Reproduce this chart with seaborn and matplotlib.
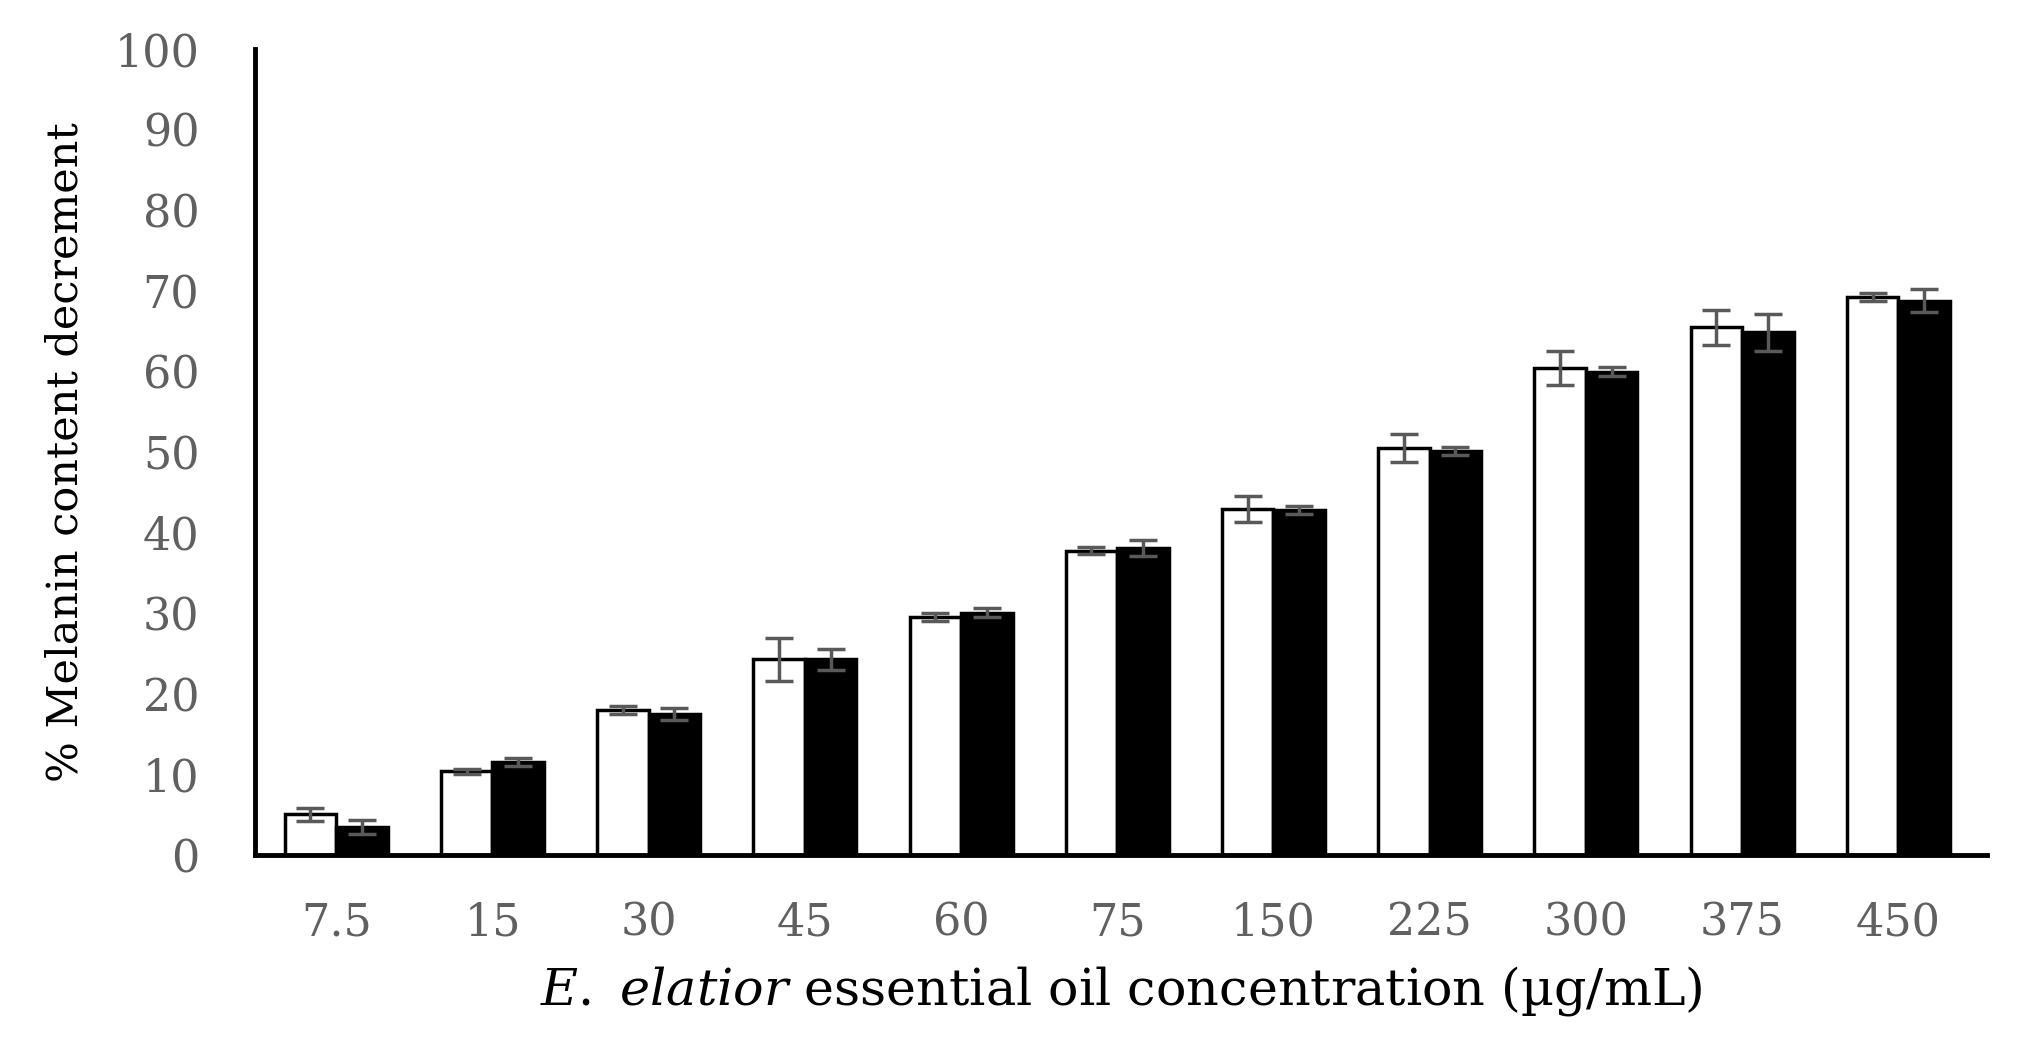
import pandas as pd
import numpy as np
import matplotlib
matplotlib.use("Agg")
import matplotlib.pyplot as plt
import seaborn as sns

# data
concentrations = ["7.5", "15", "30", "45", "60", "75", "150", "225", "300", "375", "450"]
series_names = ["Series 1", "Series 2"]
values_white = [5.1, 10.4, 18.0, 24.3, 29.5, 37.8, 43.0, 50.5, 60.5, 65.5, 69.3]
values_black = [3.5, 11.6, 17.5, 24.3, 30.1, 38.1, 42.8, 50.2, 60.0, 64.9, 68.8]
err_white = [0.8, 0.3, 0.5, 2.7, 0.5, 0.4, 1.6, 1.7, 2.1, 2.2, 0.5]
err_black = [0.9, 0.5, 0.7, 1.3, 0.6, 1.0, 0.5, 0.5, 0.6, 2.3, 1.4]
y_ticks = list(range(0, 101, 10))

df = pd.DataFrame({
    "conc": concentrations * 2,
    "series": [series_names[0]] * len(concentrations) + [series_names[1]] * len(concentrations),
    "value": values_white + values_black,
})

sns.set_style("white")
plt.rcParams["font.family"] = ["DejaVu Serif"]
plt.rcParams["mathtext.fontset"] = "custom"
plt.rcParams["mathtext.it"] = "DejaVu Serif:italic"
plt.rcParams["mathtext.rm"] = "DejaVu Serif"

fig, ax = plt.subplots(figsize=(20.3, 10.48), dpi=100)
fig.subplots_adjust(left=0.1256, right=0.979, bottom=0.184, top=0.953)

sns.barplot(data=df, x="conc", y="value", hue="series", order=concentrations,
            hue_order=series_names, palette=["white", "black"], edgecolor="black",
            linewidth=2.5, width=0.66, errorbar=None, legend=False, ax=ax)

# error bars on top of each bar
for container, errs in zip(ax.containers, [err_white, err_black]):
    xs = [p.get_x() + p.get_width() / 2 for p in container]
    hs = [p.get_height() for p in container]
    ax.errorbar(xs, hs, yerr=errs, fmt="none", ecolor="#595959",
                elinewidth=2.5, capsize=10, capthick=2.5, zorder=5)

ax.set_ylim(0, 100)
ax.set_xlim(-0.52, 10.57)
ax.set_yticks(y_ticks)
ax.tick_params(axis="both", length=0, labelsize=32, labelcolor="#606060")
ax.tick_params(axis="y", pad=40)
ax.tick_params(axis="x", pad=33)

sns.despine(ax=ax)
for side in ["left", "bottom"]:
    ax.spines[side].set_color("black")
    ax.spines[side].set_linewidth(3.5)

ax.set_ylabel("% Melanin content decrement", fontsize=31, color="black", labelpad=20)
ax.set_xlabel(r"$\mathit{E.\ elatior}$ essential oil concentration (µg/mL)",
              fontsize=36.5, color="black", labelpad=14)

plt.savefig("out.png", dpi=100)
plt.close()
